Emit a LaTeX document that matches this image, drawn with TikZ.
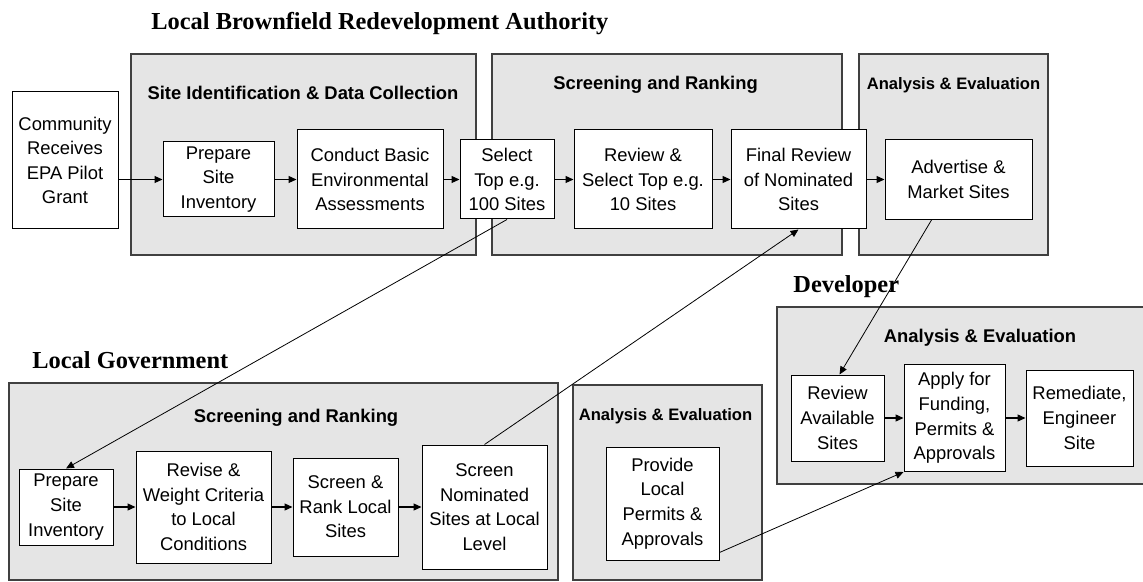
\documentclass[tikz,border=0pt]{standalone}
\usepackage{fontspec}
\setmainfont{Liberation Sans}
\newfontfamily\titlefont{Liberation Serif}
\usetikzlibrary{arrows.meta}

\tikzset{
  stage/.style={draw, fill=white, line width=0.5pt, align=center, inner sep=0pt,
    font=\fontsize{9.2}{12.3}\selectfont},
  panel/.style={draw=black!75, fill=black!10, line width=0.7pt},
  paneltitle/.style={inner sep=0pt, font=\fontsize{9.2}{11}\selectfont\bfseries},
  smalltitle/.style={paneltitle, font=\fontsize{8.3}{10}\selectfont\bfseries},
  owner/.style={anchor=west, inner sep=0pt, font=\titlefont\fontsize{12.2}{14}\selectfont\bfseries},
  flow/.style={-{Triangle[length=4pt,width=3.5pt]}, line width=0.6pt},
  link/.style={-{Triangle[length=4pt,width=3.5pt]}, line width=0.4pt}
}

\begin{document}
\begin{tikzpicture}[x=0.5pt, y=-0.5pt]
    \useasboundingbox (0,0) rectangle (1143,582);

    % panels
    \draw[panel] (131,54) rectangle (476,255);
    \draw[panel] (492,54) rectangle (842,255);
    \draw[panel] (859,54) rectangle (1048,255);
    \draw[panel] (9,383) rectangle (558,580);
    \draw[panel] (573,385) rectangle (762,580);
    \draw[panel] (777,307) rectangle (1150,484);

    \node[owner] (lbra) at (151,24) {Local Brownfield Redevelopment Authority};
    \node[owner] (lgov) at (32,360) {Local Government};
    \node[owner] (devr) at (793,287) {Developer};

    \node[paneltitle] (tsite) at (303,93) {Site Identification \& Data Collection};
    \node[paneltitle] (tscr) at (655.5,85) {Screening and Ranking};
    \node[smalltitle] (tana) at (953.5,85) {Analysis \& Evaluation};
    \node[paneltitle] (tlscr) at (296,418) {Screening and Ranking};
    \node[smalltitle] (tlana) at (665.5,416) {Analysis \& Evaluation};
    \node[paneltitle] (tdana) at (980,338) {Analysis \& Evaluation};

    % authority row
    \node[stage, minimum width=53pt, minimum height=68.5pt] (comm) at (65,160.5) {Community\\Receives\\EPA Pilot\\Grant};
    \node[stage, minimum width=55.5pt, minimum height=37.5pt] (prep) at (218.5,179.5) {Prepare\\Site\\Inventory};
    \node[stage, minimum width=73pt, minimum height=49.5pt] (cba) at (370,179.5) {Conduct Basic\\Environmental\\Assessments};
    \node[stage, minimum width=47pt, minimum height=39.5pt] (sel) at (507,179.5) {Select\\Top e.g.\\100 Sites};
    \node[stage, minimum width=69pt, minimum height=49.5pt] (rev) at (643,179.5) {Review \&\\Select Top e.g.\\10 Sites};
    \node[stage, minimum width=67.5pt, minimum height=49.5pt] (fin) at (798.5,179.5) {Final Review\\of Nominated\\Sites};
    \node[stage, minimum width=73.5pt, minimum height=40pt] (adv) at (958.5,179.5) {Advertise \&\\Market Sites};

    % local government row
    \node[stage, minimum width=47pt, minimum height=38pt] (lgprep) at (66,507) {Prepare\\Site\\Inventory};
    \node[stage, minimum width=67.5pt, minimum height=56pt] (crit) at (203.5,507) {Revise \&\\Weight Criteria\\to Local\\Conditions};
    \node[stage, minimum width=52.5pt, minimum height=49pt] (rank) at (345.5,507) {Screen \&\\Rank Local\\Sites};
    \node[stage, minimum width=62.5pt, minimum height=62pt] (nom) at (484.5,507) {Screen\\Nominated\\Sites at Local\\Level};
    \node[stage, minimum width=56.5pt, minimum height=56.5pt] (prov) at (662.5,503.5) {Provide\\Local\\Permits \&\\Approvals};

    % developer row
    \node[stage, minimum width=46.5pt, minimum height=43pt] (avail) at (837.5,418) {Review\\Available\\Sites};
    \node[stage, minimum width=50.5pt, minimum height=53.5pt] (apply) at (954.5,418) {Apply for\\Funding,\\Permits \&\\Approvals};
    \node[stage, minimum width=53.5pt, minimum height=48pt] (remed) at (1079.5,418) {Remediate,\\Engineer\\Site};

    \draw[flow] (comm.east |- prep) -- (prep);
    \draw[flow] (prep) -- (cba);
    \draw[flow] (cba) -- (sel);
    \draw[flow] (sel) -- (rev);
    \draw[flow] (rev) -- (fin);
    \draw[flow] (fin) -- (adv);

    \draw[flow] (lgprep) -- (crit);
    \draw[flow] (crit) -- (rank);
    \draw[flow] (rank) -- (nom);

    \draw[flow] (avail) -- (apply);
    \draw[flow] (apply) -- (remed);

    % hand-overs between the parties
    \draw[link] (sel.south) -- (lgprep.north);
    \draw[link] (nom.north) -- (fin.south);
    \draw[link] ([xshift=-13.5pt]adv.south) -- ([xshift=1pt]avail.north);
    \draw[link] ([yshift=4pt]prov.south east) -- (apply.south west);

\end{tikzpicture}
\end{document}
